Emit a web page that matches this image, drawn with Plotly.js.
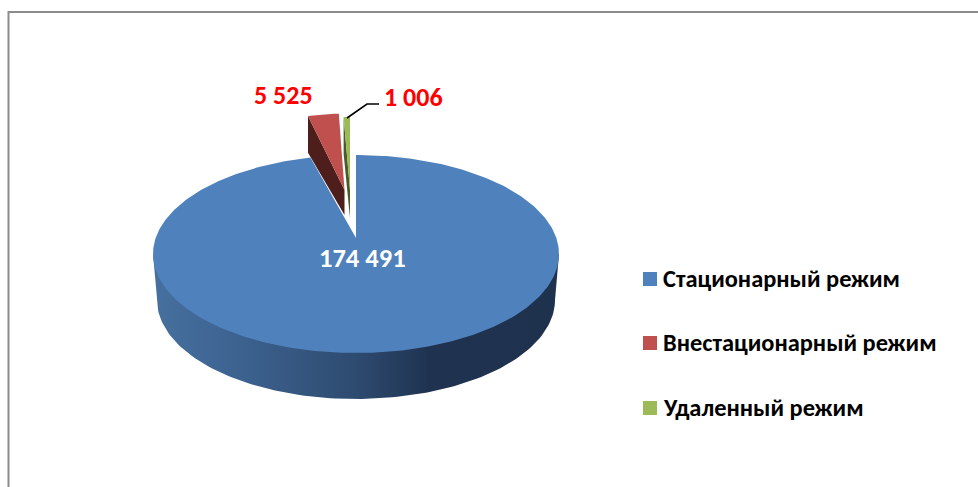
<!DOCTYPE html>
<html><head><meta charset="utf-8">
<script src="https://cdn.plot.ly/plotly-3.0.1.min.js"></script>
<style>html,body{margin:0;padding:0;background:#fff}#c{width:978px;height:487px}</style>
</head><body><div id="c"></div>
<script>
const categories = ['Стационарный режим', 'Внестационарный режим', 'Удаленный режим'];
const values = [174491, 5525, 1006];
const valueLabels = ['174 491', '5 525', '1 006'];
const topColors = ['#4f81bd', '#c0504d', '#9bbb59'];
const sideColors = ['#1f3350', '#4e1e1d', '#4a5a28'];

const FONT = 'Carlito, Lato, "Open Sans", sans-serif';
const total = values.reduce((a, b) => a + b, 0);
const rad = d => d * Math.PI / 180;

// Projection of the tilted disc into the plot's pixel-sized axes
const disc = {cx: 356, cy: 254, rx: 203, ry: 99, apexY: 238, depth: 46, rimRx: 199};
const rim = (t) => [disc.cx + disc.rx * Math.sin(t), disc.cy - disc.ry * Math.cos(t)];

// clockwise from 12 o'clock: the first slice starts at 0 and the small ones end at 360
let acc = 0;
const spans = values.map(v => { const s = acc; acc += v / total * 2 * Math.PI; return [s, acc]; });

function arc(a, b, steps) {
  const out = [];
  for (let i = 0; i <= steps; i++) out.push(rim(a + (b - a) * i / steps));
  return out;
}
// exploded slices: apex position and shrink of the radial vectors under perspective
const explode = [null, {ax: 344.5, ay: 190, sx: .8, sy: .92, tip: 25}, {ax: 350, ay: 190, sx: .9, sy: .88, tip: 28}];

function sliceTop(i) {
  const [a, b] = spans[i], e = explode[i];
  const apex = [disc.cx, disc.apexY];
  let pts = arc(a, b, Math.max(4, Math.ceil((b - a) * 60)));
  if (!e) return [apex, ...pts, apex];
  pts = pts.map(p => [e.ax + (p[0] - disc.cx) * e.sx, e.ay + (p[1] - disc.apexY) * e.sy]);
  return [[e.ax, e.ay], ...pts, [e.ax, e.ay]];
}
function sliceSide(i) {
  const top = sliceTop(i), e = explode[i];
  const outer = top[1];
  return [outer, [outer[0], outer[1] + disc.depth * .8], [e.ax, e.ay + e.tip], [e.ax, e.ay], outer];
}
function poly(pts, color, extra) {
  return Object.assign({
    type: 'scatter', mode: 'lines', x: pts.map(p => p[0]), y: pts.map(p => p[1]),
    fill: 'toself', fillcolor: color, line: {width: 0, color: color},
    hoverinfo: 'skip', showlegend: false
  }, extra || {});
}

// body of the disc under its front half
const sidePts = [];
for (let i = 0; i <= 120; i++) { const t = rad(90 + 180 * i / 120); sidePts.push([disc.cx + disc.rimRx * Math.sin(t), disc.cy + disc.depth - disc.ry * Math.cos(t)]); }
const body = [rim(rad(270)), ...sidePts.slice().reverse(), rim(rad(90)), rim(rad(270))];

const traces = [
  poly(body, '#1f3350', {fillgradient: {type: 'horizontal', colorscale: [[0, '#46709f'], [.2, '#3d6391'], [.5, '#2e4b70'], [.68, '#1f3350'], [1, '#1e324e']]}}),
  poly(sliceSide(1), sideColors[1]),
  poly(sliceSide(2), sideColors[2]),
  poly(sliceTop(0), topColors[0]),
  poly(sliceTop(1), topColors[1]),
  poly(sliceTop(2), topColors[2]),
  {type: 'scatter', mode: 'lines', x: [347, 367, 379], y: [118, 104, 104], line: {color: '#000', width: 1.6}, hoverinfo: 'skip', showlegend: false}
];

const label = (text, x, y, size, color, anchor) => ({
  text: text, x: x, y: y, xref: 'x', yref: 'y', showarrow: false, xanchor: anchor || 'center', yanchor: 'middle',
  font: {family: FONT, size: size, color: color, weight: 700}
});
const legendY = [279, 343, 408];
const annotations = [
  label(valueLabels[0], 362, 257.5, 26.5, '#ffffff'),
  label(valueLabels[1], 283.5, 94.5, 26, '#ff0000'),
  label(valueLabels[2], 413.5, 96.5, 26, '#ff0000'),
  ...categories.map((c, i) => label(c, 661, legendY[i] - 0.5, 24.4, '#000000', 'left'))
];
const shapes = [
  {type: 'path', path: 'M 8.5 487 L 8.5 12 L 978 12', xref: 'x', yref: 'y', line: {color: '#8c8c8c', width: 2}},
  ...categories.map((c, i) => ({type: 'rect', xref: 'x', yref: 'y', x0: 643, x1: 657, y0: legendY[i] - 7, y1: legendY[i] + 7, fillcolor: topColors[i], line: {width: 0}}))
];

Plotly.newPlot('c', traces, {
  width: 978, height: 487, margin: {l: 0, r: 0, t: 0, b: 0},
  paper_bgcolor: '#fff', plot_bgcolor: '#fff', showlegend: false,
  xaxis: {range: [0, 978], visible: false, fixedrange: true},
  yaxis: {range: [487, 0], visible: false, fixedrange: true},
  annotations: annotations, shapes: shapes
}, {displayModeBar: false, staticPlot: true});
</script></body></html>
